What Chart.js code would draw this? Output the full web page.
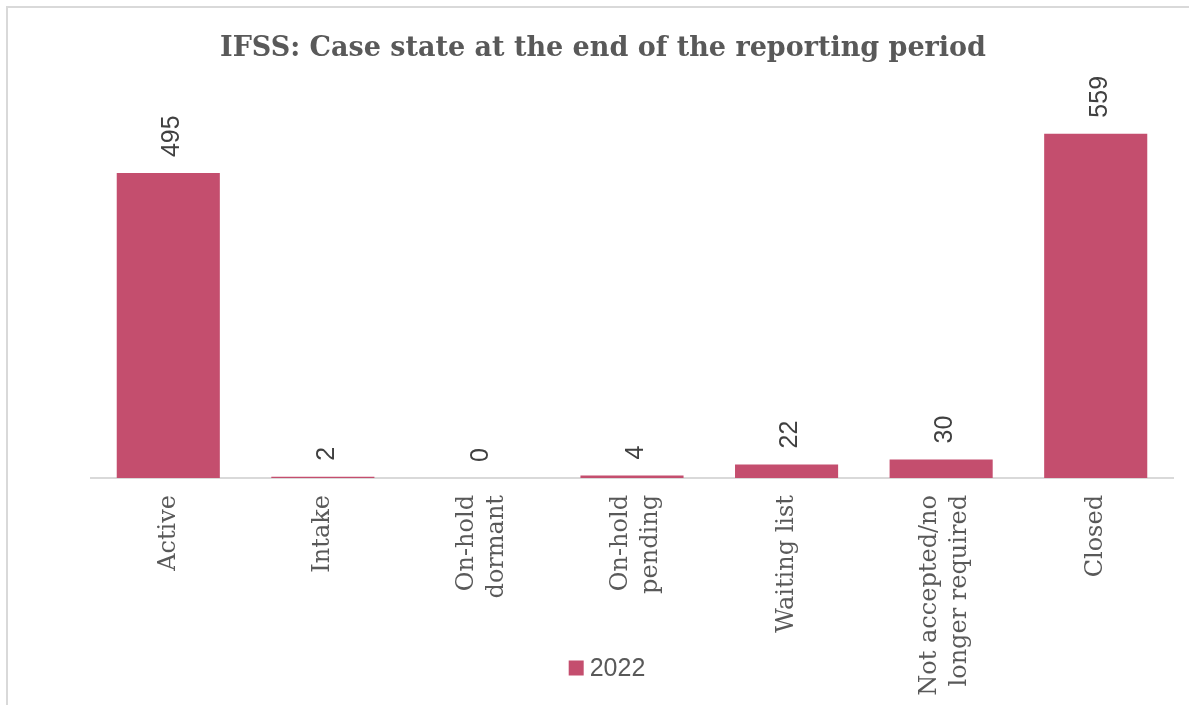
<!DOCTYPE html>
<html>
<head>
<meta charset="utf-8">
<script src="https://cdn.jsdelivr.net/npm/chart.js@4.4.1/dist/chart.umd.min.js"></script>
<style>
  html, body { margin: 0; padding: 0; background: #ffffff; }
  #wrap { position: relative; width: 1189px; height: 705px; overflow: hidden; }
  #c { position: absolute; left: 0; top: 0; }
  #frame { position: absolute; left: 6px; top: 6px; width: 1200px; height: 720px; border: 2px solid #d9d9d9; pointer-events: none; }
</style>
</head>
<body>
<div id="wrap">
  <canvas id="c" width="1189" height="705"></canvas>
  <div id="frame"></div>
</div>
<script>
const titleText = 'IFSS: Case state at the end of the reporting period';
const categories = ['Active', 'Intake', ['On-hold', 'dormant'], ['On-hold', 'pending'], 'Waiting list', ['Not accepted/no', 'longer required'], 'Closed'];
const seriesLabel = '2022';
const values2022 = [495, 2, 0, 4, 22, 30, 559];
const yMax = 600;

const barColor = '#C44E6E';

// centre the title over the whole frame, as in the original
const titleShift = {
  id: 'titleShift',
  afterLayout(chart) {
    const t = chart.titleBlock;
    if (t) { t.left = 7; t.right = 1199; }
  },
  beforeDraw(chart) {
    // centre two-line category labels around their tick
    const sc = chart.scales.x;
    const items = sc.getLabelItems(chart.chartArea);
    items.forEach(it => {
      if (Array.isArray(it.label) && it.label.length > 1 && !it._shifted) {
        it.options.translation[0] -= 11;
        it._shifted = true;
      }
    });
  }
};

// value labels above bars, rotated
const valueLabels = {
  id: 'valueLabels',
  afterDatasetsDraw(chart) {
    const ctx = chart.ctx;
    const meta = chart.getDatasetMeta(0);
    const data = chart.data.datasets[0].data;
    ctx.save();
    ctx.font = '25px "Liberation Sans", Arial, sans-serif';
    ctx.fillStyle = '#404040';
    ctx.textAlign = 'left';
    ctx.textBaseline = 'middle';
    meta.data.forEach((bar, i) => {
      ctx.save();
      ctx.translate(bar.x + 4, bar.y - 16);
      ctx.rotate(-Math.PI / 2);
      ctx.fillText(String(data[i]), 0, 0);
      ctx.restore();
    });
    ctx.restore();
  }
};

// legend drawn near the bottom, overlapping the tick-label band like the original
const bottomLegend = {
  id: 'bottomLegend',
  afterDraw(chart) {
    const ctx = chart.ctx;
    const ds = chart.data.datasets[0];
    const cy = 668;
    ctx.save();
    ctx.font = '25px "Liberation Sans", Arial, sans-serif';
    const tw = ctx.measureText(ds.label).width;
    const total = 15 + 6 + tw;
    const x0 = 607 - total / 2;
    ctx.fillStyle = ds.backgroundColor;
    ctx.fillRect(x0, cy - 7.5, 15, 15);
    ctx.fillStyle = '#595959';
    ctx.textAlign = 'left';
    ctx.textBaseline = 'middle';
    ctx.fillText(ds.label, x0 + 21, cy + 1);
    ctx.restore();
  }
};

new Chart(document.getElementById('c'), {
  type: 'bar',
  data: {
    labels: categories,
    datasets: [{
      label: seriesLabel,
      data: values2022,
      backgroundColor: barColor,
      borderWidth: 0,
      categoryPercentage: 1,
      barPercentage: 0.667
    }]
  },
  options: {
    responsive: false,
    animation: false,
    devicePixelRatio: 1,
    layout: { padding: { left: 91, right: 16, top: 0, bottom: 0 } },
    plugins: {
      title: {
        display: true,
        text: titleText,
        color: '#595959',
        font: { family: '"DejaVu Serif", serif', size: 27, weight: 'bold', lineHeight: 1.2 },
        padding: { top: 33, bottom: 43 }
      },
      legend: { display: false },
      tooltip: { enabled: false }
    },
    scales: {
      x: {
        grid: { display: false, drawTicks: false },
        border: { display: true, color: '#d9d9d9', width: 2 },
        ticks: {
          color: '#595959',
          font: { family: '"DejaVu Serif", serif', size: 24, lineHeight: 1.25 },
          maxRotation: 90,
          minRotation: 90,
          padding: 17,
          autoSkip: false
        },
        afterFit(scale) { scale.height = 227; }
      },
      y: {
        display: false,
        min: 0,
        max: yMax
      }
    }
  },
  plugins: [titleShift, valueLabels, bottomLegend]
});
</script>
</body>
</html>
